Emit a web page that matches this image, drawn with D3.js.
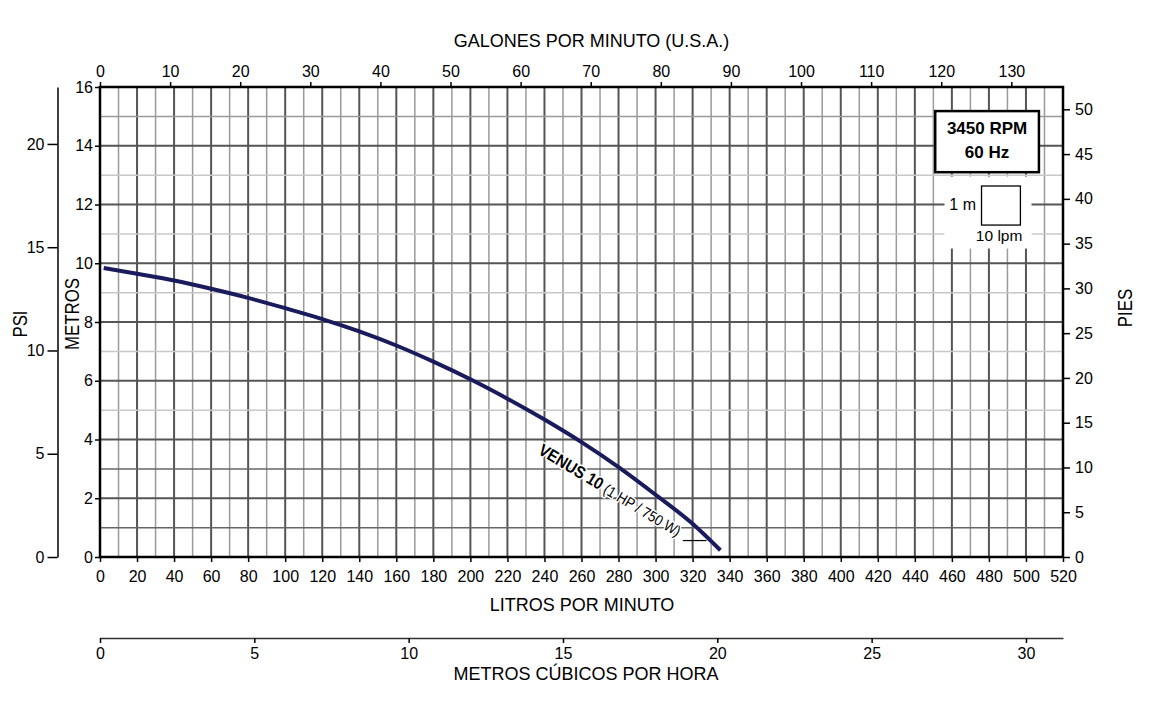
<!DOCTYPE html>
<html>
<head>
<meta charset="utf-8">
<script src="https://cdn.jsdelivr.net/npm/d3@7"></script>
<style>
  html, body { margin: 0; padding: 0; background: #fff; }
  svg { display: block; font-family: "Liberation Sans", Arial, sans-serif; }
</style>
</head>
<body>
<svg id="chart" width="1157" height="713"></svg>
<script>
// ---- Data ----
const flowLpm = [2, 20, 40, 60, 80, 100, 120, 140, 160, 180, 200, 220, 240, 260, 280, 300, 320, 335];
const headM   = [9.84, 9.64, 9.41, 9.13, 8.82, 8.47, 8.10, 7.68, 7.20, 6.65, 6.05, 5.39, 4.68, 3.91, 3.06, 2.12, 1.13, 0.23];
const lpmTicks = d3.range(0, 521, 20);
const gpmTicks = d3.range(0, 131, 10);
const m3hTicks = [0, 5, 10, 15, 20, 25, 30];
const metroTicks = d3.range(0, 17, 2);
const psiTicks = [0, 5, 10, 15, 20];
const piesTicks = d3.range(0, 51, 5);
const seriesLabel = "VENUS 10";
const seriesSub = " (1 HP / 750 W)";
const speedLines = ["3450 RPM", "60 Hz"];

// ---- Scales ----
const LPM_MAX = 520, M_MAX = 16;
const x = d3.scaleLinear([0, LPM_MAX], [100, 1063]);
const y = d3.scaleLinear([0, M_MAX], [557, 87]);
const xg = d3.scaleLinear([0, LPM_MAX / 3.78541], [100, 1063]);
const xm = d3.scaleLinear([0, LPM_MAX * 0.06], [100, 1063]);
const yp = d3.scaleLinear([0, M_MAX / 0.70307], [557, 87]);
const yf = d3.scaleLinear([0, M_MAX / 0.3048], [557, 87]);

const svg = d3.select("#chart");
const FONT = 16;

// ---- Grid ----
const grid = svg.append("g");
grid.selectAll("line.v").data(d3.range(0, 521, 10)).join("line")
  .attr("x1", d => x(d)).attr("x2", d => x(d))
  .attr("y1", y(0)).attr("y2", y(M_MAX))
  .attr("stroke", d => d % 20 === 0 ? "#555" : "#9a9a9a")
  .attr("stroke-width", d => d % 20 === 0 ? 2 : 1.5);
grid.selectAll("line.h").data(d3.range(0, 17, 1)).join("line")
  .attr("x1", x(0)).attr("x2", x(LPM_MAX))
  .attr("y1", d => y(d)).attr("y2", d => y(d))
  .attr("stroke", d => d % 2 === 0 ? "#555" : (d <= 3 ? "#666" : (d === 15 ? "#9a9a9a" : "#c8c8c8")))
  .attr("stroke-width", d => d % 2 === 0 ? 2 : 1.5);

// ---- Scale legend (white patch) ----
svg.append("rect")
  .attr("x", x(456)).attr("y", y(12.95))
  .attr("width", x(503) - x(456)).attr("height", y(10.5) - y(12.95))
  .attr("fill", "#fff");
svg.append("rect")
  .attr("x", x(476)).attr("y", y(12.63))
  .attr("width", x(497) - x(476)).attr("height", y(11.3) - y(12.63))
  .attr("fill", "#fff").attr("stroke", "#000").attr("stroke-width", 1.3);
svg.append("text").attr("x", x(473)).attr("y", y(11.8))
  .attr("text-anchor", "end").attr("font-size", 16).text("1 m");
svg.append("text").attr("x", x(485.5)).attr("y", y(10.77))
  .attr("text-anchor", "middle").attr("font-size", 15.5).text("10 lpm");

// ---- Speed box ----
svg.append("rect")
  .attr("x", x(451)).attr("y", y(15.18))
  .attr("width", x(507) - x(451)).attr("height", y(13.1) - y(15.18))
  .attr("fill", "#fff").attr("stroke", "#000").attr("stroke-width", 2.5);
svg.append("g").selectAll("text").data(speedLines).join("text")
  .attr("x", x(479)).attr("y", (d, i) => y(14.4) + i * 24)
  .attr("text-anchor", "middle").attr("font-size", 17).attr("font-weight", "bold")
  .text(d => d);

// ---- Frame ----
svg.append("rect")
  .attr("x", x(0)).attr("y", y(M_MAX))
  .attr("width", x(LPM_MAX) - x(0)).attr("height", y(0) - y(M_MAX))
  .attr("fill", "none").attr("stroke", "#000").attr("stroke-width", 2.5);

// ---- Curve ----
const pts = flowLpm.map((f, i) => [f, headM[i]]);
svg.append("path")
  .attr("d", d3.line().x(d => x(d[0])).y(d => y(d[1])).curve(d3.curveMonotoneX)(pts))
  .attr("fill", "none").attr("stroke", "#1a1b5c").attr("stroke-width", 4)
  .attr("stroke-linecap", "butt");

// leader line + series label
svg.append("line")
  .attr("x1", x(314.7)).attr("x2", x(327.5))
  .attr("y1", y(0.56)).attr("y2", y(0.56))
  .attr("stroke", "#000").attr("stroke-width", 1.2);
const lab = svg.append("text")
  .attr("transform", `translate(${x(311.5)},${y(0.68)}) rotate(31) scale(0.88,1)`)
  .attr("text-anchor", "end")
  .attr("stroke", "#fff").attr("stroke-width", 3).attr("stroke-linejoin", "round")
  .attr("paint-order", "stroke").attr("fill", "#000");
lab.append("tspan").attr("font-weight", "bold").attr("font-size", 17).text(seriesLabel);
lab.append("tspan").attr("font-size", 15).text(seriesSub);

// ---- Axes ----
function style(g) {
  g.selectAll("text").attr("font-size", FONT).attr("fill", "#000")
    .attr("font-family", '"Liberation Sans", Arial, sans-serif');
  g.selectAll("line").attr("stroke", "#000").attr("stroke-width", 1.5);
  g.select(".domain").attr("stroke", "#000");
}

// top GPM
svg.append("g").attr("transform", `translate(0,${y(M_MAX)})`)
  .call(d3.axisTop(xg).tickValues(gpmTicks).tickSize(5).tickSizeOuter(0).tickPadding(5))
  .call(style).call(g => g.select(".domain").remove());

// bottom LPM
svg.append("g").attr("transform", `translate(0,${y(0)})`)
  .call(d3.axisBottom(x).tickValues(lpmTicks).tickSize(5).tickSizeOuter(0).tickPadding(9))
  .call(style).call(g => g.select(".domain").remove());

// left METROS
svg.append("g").attr("transform", `translate(${x(0)},0)`)
  .call(d3.axisLeft(y).tickValues(metroTicks).tickSize(5).tickSizeOuter(0).tickPadding(2))
  .call(style).call(g => g.select(".domain").remove());

// right PIES
svg.append("g").attr("transform", `translate(${x(LPM_MAX)},0)`)
  .call(d3.axisRight(yf).tickValues(piesTicks).tickSize(7).tickSizeOuter(0).tickPadding(5))
  .call(style).call(g => g.select(".domain").remove());

// PSI axis
svg.append("g").attr("transform", `translate(57.5,0)`)
  .call(d3.axisLeft(yp).tickValues(psiTicks).tickSize(10).tickSizeOuter(0).tickPadding(3))
  .call(style).call(g => g.select(".domain").attr("stroke-width", 1.5));

// m3/h axis
svg.append("g").attr("transform", `translate(0,638)`)
  .call(d3.axisBottom(xm).tickValues(m3hTicks).tickSize(5).tickSizeOuter(0).tickPadding(5))
  .call(style).call(g => g.select(".domain").attr("stroke-width", 1.5).attr("stroke", "#333"));

// ---- Titles ----
const titles = [
  { t: "GALONES POR MINUTO (U.S.A.)", x: 591.5, y: 47 },
  { t: "LITROS POR MINUTO", x: 582, y: 611 },
  { t: "METROS CÚBICOS POR HORA", x: 586, y: 680 }
];
svg.append("g").selectAll("text").data(titles).join("text")
  .attr("x", d => d.x).attr("y", d => d.y)
  .attr("text-anchor", "middle").attr("font-size", 18).text(d => d.t);

const vtitles = [
  { t: "PSI", x: 20, y: 324 },
  { t: "METROS", x: 72, y: 314 },
  { t: "PIES", x: 1125, y: 308 }
];
svg.append("g").selectAll("text").data(vtitles).join("text")
  .attr("transform", d => `translate(${d.x},${d.y}) rotate(-90) scale(0.8,1)`)
  .attr("text-anchor", "middle").attr("dominant-baseline", "central")
  .attr("font-size", 21).text(d => d.t);
</script>
</body>
</html>
